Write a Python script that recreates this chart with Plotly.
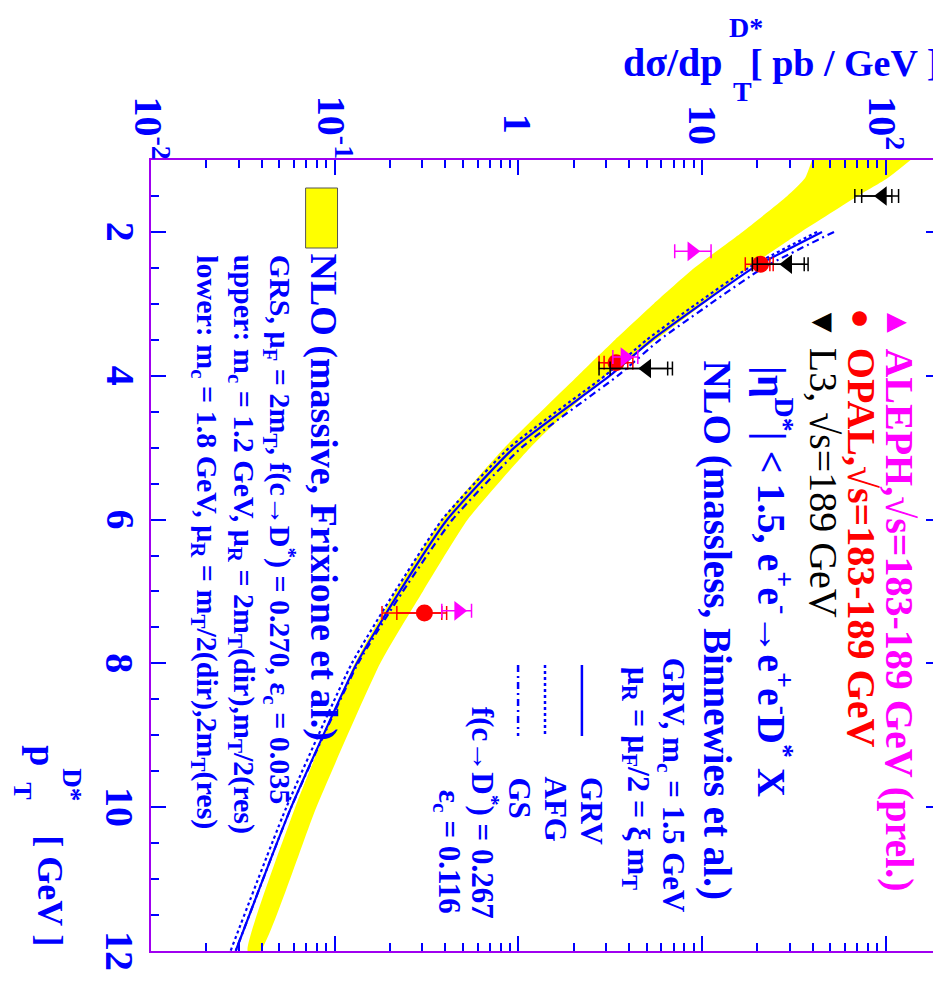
import math
import plotly.graph_objects as go

# ---------------- data ----------------
# NLO massive (Frixione et al.) uncertainty band
band_pt = [1.0, 1.25, 1.5, 2.0, 2.5, 3.0, 3.5, 4.0, 5.0, 6.0, 7.0, 8.0, 10.0, 12.0]
band_upper = [136.6, 102.6, 70.5, 34.6, 17.9, 10.2, 5.6, 3.0, 1.16, 0.53, 0.302, 0.177, 0.0795, 0.0394]
band_lower = [39.7, 36.4, 29.1, 16.6, 9.1, 5.46, 3.36, 2.11, 0.84, 0.383, 0.215, 0.129, 0.061, 0.0336]

# NLO massless (Binnewies et al.) curves
nlo_pt = [2.0, 2.5, 3.0, 3.5, 4.0, 5.0, 6.0, 7.0, 8.0, 10.0, 12.0]
grv = [45.0, 19.0, 9.94, 5.33, 3.15, 0.95, 0.41, 0.226, 0.132, 0.058, 0.0289]
afg = [42.3, 17.9, 9.33, 5.0, 2.96, 0.893, 0.385, 0.213, 0.124, 0.0546, 0.0271]
gs = [52.3, 21.5, 11.1, 5.89, 3.48, 1.04, 0.438, 0.235, 0.134, 0.058, 0.0289]

# L3
l3_pt = [1.5, 2.45, 3.9]
l3_val = [96.0, 29.3, 5.0]
l3_tot_lo = [67.9, 18.8, 2.75]
l3_tot_hi = [117.5, 37.8, 6.9]
l3_stat_lo = [74.0, 20.0, 3.16]
l3_stat_hi = [108.0, 36.0, 6.5]

# OPAL
opal_pt = [2.45, 3.82, 7.30]
opal_val = [20.8, 3.40, 0.308]
opal_tot_lo = [17.2, 2.75, 0.181]
opal_tot_hi = [24.4, 4.2, 0.407]
opal_stat_lo = [18.8, 2.93, 0.218]
opal_stat_hi = [23.4, 3.94, 0.383]

# ALEPH
aleph_pt = [2.27, 3.74, 7.27]
aleph_val = [8.8, 3.8, 0.473]
aleph_lo = [7.1, 3.27, 0.383]
aleph_hi = [11.2, 4.47, 0.556]

# axis ticks
sig_ticks = [0.01, 0.1, 1, 10, 100]
sig_ticktext = ["10<sup>-2</sup>", "10<sup>-1</sup>", "1", "10", "10<sup>2</sup>"]
pt_ticks = [2, 4, 6, 8, 10, 12]

# ---------------- layout helpers ----------------
W, H = 941, 986
L, R, T, B = 143, 935, 152, 943
SIG_MIN, SIG_MAX = 0.01, 200.0
PT_MIN, PT_MAX = 1.0, 12.0


def px(x):
    return (x - L) / (R - L)


def py(y):
    return (B - y) / (B - T)


def sig_paper(v):
    return (math.log10(v) - math.log10(SIG_MIN)) / (math.log10(SIG_MAX) - math.log10(SIG_MIN))


def pt_pixel(v):
    return T + (v - PT_MIN) / (PT_MAX - PT_MIN) * (B - T)


FONT = "Liberation Serif"
BLUE = "#0000ff"
MAG = "#ff00ff"
RED = "#ff0000"
FRAME = "#a000f0"
DASHDOT = "7px,4px,2px,4px"

fig = go.Figure()

# yellow band
fig.add_trace(go.Scatter(
    x=band_upper + band_lower[::-1],
    y=band_pt + band_pt[::-1],
    fill="toself", fillcolor="#ffff00", mode="lines",
    line=dict(width=0, color="#ffff00", shape="spline", smoothing=0.5),
    hoverinfo="skip", showlegend=False))

# NLO massless curves
fig.add_trace(go.Scatter(x=afg, y=nlo_pt, mode="lines",
                         line=dict(color=BLUE, width=2.2, dash="dot", shape="spline", smoothing=0.5),
                         showlegend=False))
fig.add_trace(go.Scatter(x=gs, y=nlo_pt, mode="lines",
                         line=dict(color=BLUE, width=2.2, dash=DASHDOT, shape="spline", smoothing=0.5),
                         showlegend=False))
fig.add_trace(go.Scatter(x=grv, y=nlo_pt, mode="lines",
                         line=dict(color=BLUE, width=2.2, shape="spline", smoothing=0.5),
                         showlegend=False))


def errs(val, lo, hi):
    return ([h - v for v, h in zip(val, hi)], [v - l for v, l in zip(val, lo)])


# OPAL
p, m = errs(opal_val, opal_tot_lo, opal_tot_hi)
fig.add_trace(go.Scatter(x=opal_val, y=opal_pt, mode="markers",
                         marker=dict(symbol="circle", size=17, color=RED),
                         error_x=dict(type="data", array=p, arrayminus=m, color=RED, thickness=1.5, width=7),
                         showlegend=False))
p, m = errs(opal_val, opal_stat_lo, opal_stat_hi)
fig.add_trace(go.Scatter(x=opal_val, y=opal_pt, mode="markers",
                         marker=dict(size=1, color="rgba(0,0,0,0)"),
                         error_x=dict(type="data", array=p, arrayminus=m, color=RED, thickness=1.5, width=7),
                         showlegend=False))

# ALEPH
p, m = errs(aleph_val, aleph_lo, aleph_hi)
fig.add_trace(go.Scatter(x=aleph_val, y=aleph_pt, mode="markers",
                         marker=dict(symbol="triangle-right", size=17, color=MAG),
                         error_x=dict(type="data", array=p, arrayminus=m, color=MAG, thickness=1.5, width=7),
                         showlegend=False))

# L3
p, m = errs(l3_val, l3_tot_lo, l3_tot_hi)
fig.add_trace(go.Scatter(x=l3_val, y=l3_pt, mode="markers",
                         marker=dict(symbol="triangle-left", size=17, color="black"),
                         error_x=dict(type="data", array=p, arrayminus=m, color="black", thickness=1.5, width=7),
                         showlegend=False))
p, m = errs(l3_val, l3_stat_lo, l3_stat_hi)
fig.add_trace(go.Scatter(x=l3_val, y=l3_pt, mode="markers",
                         marker=dict(size=1, color="rgba(0,0,0,0)"),
                         error_x=dict(type="data", array=p, arrayminus=m, color="black", thickness=1.5, width=7),
                         showlegend=False))

minor_sig = [k * 10 ** e for e in range(-2, 3) for k in range(2, 10) if k * 10 ** e <= SIG_MAX]

fig.update_xaxes(
    type="log", range=[math.log10(SIG_MIN), math.log10(SIG_MAX)], side="top",
    tickmode="array", tickvals=sig_ticks, showticklabels=False,
    ticks="inside", ticklen=15, tickwidth=2, tickcolor=BLUE,
    minor=dict(tickmode="array", tickvals=minor_sig, ticks="inside", ticklen=8, tickwidth=1.5, tickcolor=BLUE),
    showline=True, linecolor=FRAME, linewidth=2, mirror="ticks",
    showgrid=False, zeroline=False)

fig.update_yaxes(
    range=[PT_MAX, PT_MIN], tickmode="array", tickvals=pt_ticks, showticklabels=False,
    ticks="inside", ticklen=15, tickwidth=2, tickcolor=BLUE,
    minor=dict(tickmode="linear", tick0=1, dtick=0.5, ticks="inside", ticklen=8, tickwidth=1.5, tickcolor=BLUE),
    showline=True, linecolor=FRAME, linewidth=2, mirror="ticks",
    showgrid=False, zeroline=False)

ann = []


def rot(text, xp, yp, size, color=BLUE, weight="bold", xanchor="center", yanchor="top"):
    ann.append(dict(text=text, x=xp, y=yp, xref="paper", yref="paper",
                    xanchor=xanchor, yanchor=yanchor, textangle=90, showarrow=False,
                    font=dict(family=FONT, size=size, color=color, weight=weight)))


def rtext(text, xc, ytop, size, color=BLUE, weight="bold", yanchor="top"):
    rot(text, px(xc), py(ytop), size, color, weight, "center", yanchor)


def htext(text, x, y, size, xanchor="left", color=BLUE):
    ann.append(dict(text=text, x=px(x), y=py(y), xref="paper", yref="paper",
                    xanchor=xanchor, yanchor="middle", showarrow=False,
                    font=dict(family=FONT, size=size, color=color, weight="bold")))


# tick labels (rotated like the rest of the picture)
sig_label_top = [86, 86, 104, 95, 86]
for v, t, yt in zip(sig_ticks, sig_ticktext, sig_label_top):
    rot(t, sig_paper(v), py(yt), 40, yanchor="top")
for v in pt_ticks:
    s = str(v)
    rot(s, px(112), py(pt_pixel(v) - 10 * len(s) - 2), 40, yanchor="top")

# axis titles
htext("dσ/dp", 718, 55, 40, xanchor="right")
htext("D*", 720, 20, 28)
htext("T", 724, 84, 28)
htext("[ pb / GeV ]", 935, 55, 38, xanchor="right")

rtext("p", 35, 735, 38)
rtext("D*", 64, 758, 27)
rtext("T", 14, 772, 26)
rtext("[ GeV ]", 42, 940, 36, yanchor="bottom")

# experiment legend
rtext("▲", 893, 296, 34, color=MAG, weight="normal")
rtext("ALEPH,√s=183-189 GeV (prel.)", 893, 338, 40, color=MAG)
rtext("●", 855, 298, 34, color=RED, weight="normal")
rtext("OPAL,√s=183-189 GeV", 856, 338, 40, color=RED)
rtext("▼", 818, 296, 34, color="black", weight="normal")
rtext("L3, √s=189 GeV", 818, 338, 40, color="black", weight="normal")
rtext("|η<sup>D*</sup>| < 1.5, e<sup>+</sup>e<sup>-</sup>→e<sup>+</sup>e<sup>-</sup>D<sup>*</sup> X", 768, 356, 40)
rtext("NLO (massless, Binnewies et al.)", 710, 350, 39)
rtext("GRV, m<sub>c</sub> = 1.5 GeV", 665, 648, 31)
rtext("μ<sub>R</sub> = μ<sub>F</sub>/2 = ξ m<sub>T</sub>", 630, 657, 32)
rtext("GRV", 585, 767, 31)
rtext("AFG", 549, 767, 31)
rtext("GS", 512, 767, 31)
rtext("f(c→D<sup>*</sup>) = 0.267", 478, 697, 31)
rtext("ε<sub>c</sub> = 0.116", 440, 780, 31)

# massive legend
rtext("NLO (massive, Frixione et al.)", 316, 243, 38)
rtext("GRS, μ<sub>F</sub> = 2m<sub>T</sub>, f(c→D<sup>*</sup>) = 0.270, ε<sub>c</sub> = 0.035", 272, 245, 30)
rtext("upper: m<sub>c</sub> = 1.2 GeV, μ<sub>R</sub> = 2m<sub>T</sub>(dir),m<sub>T</sub>/2(res)", 235, 245, 30)
rtext("lower: m<sub>c</sub> = 1.8 GeV, μ<sub>R</sub> = m<sub>T</sub>/2(dir),2m<sub>T</sub>(res)", 197, 245, 30)

shapes = [
    dict(type="rect", xref="paper", yref="paper", x0=px(298), x1=px(330), y0=py(240), y1=py(180),
         fillcolor="#ffff00", line=dict(color="#555555", width=1)),
    dict(type="line", xref="paper", yref="paper", x0=px(575), x1=px(575), y0=py(657), y1=py(728),
         line=dict(color=BLUE, width=2.5)),
    dict(type="line", xref="paper", yref="paper", x0=px(538), x1=px(538), y0=py(657), y1=py(728),
         line=dict(color=BLUE, width=2.5, dash="dot")),
    dict(type="line", xref="paper", yref="paper", x0=px(511), x1=px(511), y0=py(657), y1=py(728),
         line=dict(color=BLUE, width=2.5, dash=DASHDOT)),
]

fig.update_layout(
    width=W, height=H,
    margin=dict(l=L, r=W - R, t=T, b=H - B, pad=0),
    paper_bgcolor="white", plot_bgcolor="white",
    annotations=ann, shapes=shapes, showlegend=False)

fig.write_html("out.html")
